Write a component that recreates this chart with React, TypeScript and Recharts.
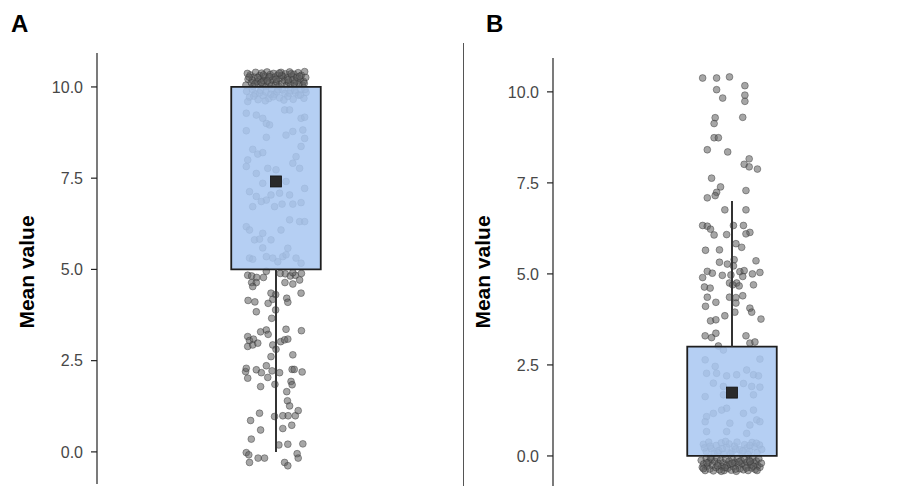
import React from "react";
import { ScatterChart, Scatter, XAxis, YAxis, ReferenceArea, ReferenceLine } from "recharts";

const panelNames = ["A", "B"];
const yTicks = [0, 2.5, 5, 7.5, 10];
const boxLower = [5.0, 0.0];
const boxUpper = [10.0, 3.0];
const whiskerLow = [0.0, 0.0];
const whiskerHigh = [10.0, 7.0];
const groupMeans = [7.41, 1.74];

// jittered observations, [jitter, value]
const aTop: [number, number][] = [
  [-0.084, 10.05], [-0.078, 10.21], [-0.072, 10.33], [-0.069, 10.12], [-0.064, 10.02], [-0.061, 10.27],
  [-0.057, 10.4], [-0.053, 10.15], [-0.049, 10.06], [-0.046, 10.31], [-0.043, 10.22], [-0.04, 10.38],
  [-0.037, 10.09], [-0.034, 10.17], [-0.031, 10.29], [-0.028, 10.03], [-0.025, 10.41], [-0.022, 10.24],
  [-0.019, 10.11], [-0.016, 10.34], [-0.013, 10.05], [-0.01, 10.19], [-0.007, 10.37], [-0.004, 10.27],
  [-0.001, 10.08], [0.002, 10.14], [0.005, 10.32], [0.008, 10.02], [0.011, 10.23], [0.014, 10.4],
  [0.017, 10.1], [0.02, 10.29], [0.023, 10.18], [0.026, 10.36], [0.029, 10.04], [0.032, 10.25],
  [0.035, 10.13], [0.038, 10.41], [0.041, 10.07], [0.044, 10.3], [0.047, 10.2], [0.05, 10.35],
  [0.053, 10.03], [0.056, 10.16], [0.059, 10.27], [0.062, 10.39], [0.065, 10.09], [0.068, 10.22],
  [0.071, 10.32], [0.074, 10.05], [0.077, 10.15], [0.08, 10.42], [0.083, 10.26], [-0.08, 10.37],
  [-0.066, 10.19], [-0.051, 10.26], [-0.035, 10.33], [-0.018, 10.28], [0.0, 10.21], [0.016, 10.31],
  [0.034, 10.19], [0.051, 10.1], [0.066, 10.29], [0.079, 10.1], [-0.075, 10.27], [-0.059, 10.08],
  [-0.041, 10.12], [-0.024, 10.16], [0.009, 10.38], [0.042, 10.36],
];
const aBand: [number, number][] = [
  [-0.082, 9.88], [-0.074, 9.72], [-0.066, 9.93], [-0.058, 9.81], [-0.05, 9.65], [-0.043, 9.9],
  [-0.036, 9.76], [-0.028, 9.86], [-0.02, 9.68], [-0.012, 9.94], [-0.005, 9.79], [0.003, 9.87],
  [0.01, 9.7], [0.018, 9.92], [0.025, 9.82], [0.033, 9.74], [0.04, 9.9], [0.048, 9.66],
  [0.055, 9.84], [0.063, 9.77], [0.07, 9.93], [0.078, 9.69], [0.084, 9.85], [-0.079, 9.6],
  [-0.062, 9.75], [-0.046, 9.84], [-0.03, 9.62], [-0.015, 9.8], [0.006, 9.92], [0.022, 9.64],
  [0.037, 9.83], [0.052, 9.91], [0.068, 9.78], [0.081, 9.93], [-0.008, 9.73],
];
const aMid: [number, number][] = [
  [-0.083, 9.28], [-0.055, 9.23], [-0.037, 9.14], [-0.027, 9.0], [-0.018, 8.96], [0.024, 9.37],
  [0.038, 9.37], [0.07, 9.14], [0.08, 9.17], [-0.083, 8.8], [-0.027, 8.62], [0.028, 8.68],
  [0.047, 8.78], [0.075, 8.82], [0.08, 8.59], [0.07, 8.37], [0.047, 7.91], [0.056, 8.09],
  [-0.065, 8.29], [-0.051, 8.16], [-0.037, 8.2], [-0.079, 8.0], [-0.083, 7.82], [-0.055, 7.63],
  [-0.023, 7.77], [0.0, 7.73], [0.066, 7.77], [-0.037, 7.36], [-0.074, 7.13], [-0.055, 7.0],
  [-0.027, 6.9], [-0.014, 7.04], [-0.004, 6.72], [0.017, 6.79], [0.038, 7.04], [0.047, 6.79],
  [0.07, 6.83], [0.08, 7.22], [-0.065, 6.72], [-0.041, 6.86], [0.01, 7.09], [0.028, 7.41],
  [-0.083, 6.17], [-0.074, 6.08], [-0.037, 5.99], [-0.014, 5.81], [0.014, 6.08], [0.038, 6.36],
  [0.066, 6.31], [0.08, 6.31], [-0.06, 5.81], [-0.046, 5.83], [0.033, 5.58], [-0.074, 5.31],
  [-0.065, 5.28], [-0.027, 5.35], [0.019, 5.35], [0.028, 5.4], [0.056, 5.31], [0.07, 5.17],
  [-0.037, 5.59], [0.005, 5.21], [-0.009, 5.31],
];
const aTail: [number, number][] = [
  [-0.079, 4.84], [-0.068, 4.82], [-0.054, 4.78], [-0.035, 4.78], [0.012, 4.89], [0.026, 4.88],
  [0.04, 4.82], [0.054, 4.84], [0.071, 4.89], [-0.068, 4.64], [-0.055, 4.64], [0.025, 4.64],
  [0.047, 4.6], [0.066, 4.71], [0.07, 4.35], [-0.001, 4.31], [0.03, 4.21], [0.033, 4.1],
  [-0.078, 4.15], [-0.059, 4.11], [-0.022, 4.07], [-0.009, 4.18], [-0.055, 3.84], [-0.001, 3.89],
  [-0.012, 3.66], [-0.043, 3.29], [-0.027, 3.34], [-0.022, 3.22], [0.028, 3.36], [0.071, 3.32],
  [-0.079, 3.16], [-0.074, 3.05], [-0.063, 3.09], [-0.079, 2.89], [-0.065, 2.93], [-0.051, 2.98],
  [-0.009, 2.93], [0.013, 3.02], [0.024, 3.07], [0.033, 3.09], [0.0, 2.81], [0.047, 2.66],
  [-0.014, 2.61], [-0.085, 2.2], [-0.079, 2.02], [-0.055, 2.25], [-0.041, 2.17], [-0.027, 2.36],
  [-0.023, 2.04], [-0.011, 2.22], [0.01, 2.17], [0.045, 2.26], [0.051, 2.26], [0.073, 2.19],
  [-0.003, 1.85], [0.042, 1.93], [0.045, 1.84], [-0.043, 1.79], [0.03, 1.65], [0.032, 1.4],
  [0.038, 1.26], [0.062, 1.13], [-0.071, 0.86], [-0.046, 1.06], [-0.004, 0.97], [0.019, 0.99],
  [0.034, 0.99], [0.054, 0.99], [-0.043, 0.6], [0.019, 0.64], [0.044, 0.73], [-0.069, 0.35],
  [0.008, 0.19], [0.033, 0.21], [0.075, 0.22], [-0.083, -0.02], [-0.074, -0.29], [-0.05, -0.17],
  [-0.032, -0.17], [0.024, -0.29], [0.033, -0.38], [0.059, -0.05], [0.062, -0.17], [-0.076, -0.08],
  [-0.027, 4.95], [0.047, 4.91], [-0.065, 4.53], [-0.014, 4.35], [-0.083, 2.29],
];

const bUpper: [number, number][] = [
  [-0.082, 10.38], [-0.043, 10.38], [-0.007, 10.41], [-0.043, 10.06], [0.036, 10.17], [-0.026, 9.83],
  [0.036, 9.91], [0.036, 9.74], [-0.047, 9.29], [-0.05, 9.13], [0.03, 9.3], [-0.05, 8.74],
  [-0.038, 8.74], [-0.069, 8.41], [-0.012, 8.35], [0.048, 8.16], [0.034, 8.01], [0.048, 7.94],
  [0.071, 7.88], [-0.057, 7.63], [-0.032, 7.39], [-0.043, 7.24], [-0.047, 7.15], [-0.069, 7.09],
  [0.039, 7.29], [-0.02, 6.76], [0.039, 6.76], [-0.082, 6.33], [-0.069, 6.31], [-0.06, 6.23],
  [-0.05, 6.07], [-0.015, 6.08], [0.004, 6.33], [0.032, 6.33], [0.05, 6.14], [0.039, 6.1],
  [-0.074, 5.65], [-0.035, 5.66], [0.011, 5.83], [0.027, 5.73], [0.067, 5.36], [-0.035, 5.32],
  [-0.013, 5.27], [0.006, 5.39], [0.004, 5.22], [-0.069, 5.07], [-0.055, 5.02], [-0.082, 4.9],
  [-0.027, 4.96], [-0.003, 4.97], [0.022, 5.06], [0.034, 5.09], [0.03, 4.93], [0.057, 5.0],
  [0.078, 5.04], [-0.007, 4.75], [0.013, 4.75], [0.002, 4.7], [0.02, 4.67], [0.06, 4.7],
  [-0.077, 4.64], [-0.061, 4.61], [-0.069, 4.36], [-0.007, 4.36], [0.011, 4.35], [0.03, 4.4],
  [-0.045, 4.22], [-0.074, 4.11], [0.011, 4.2], [0.05, 4.06], [0.055, 3.95], [-0.06, 3.71],
  [-0.045, 3.74], [-0.02, 3.85], [0.008, 3.95], [0.081, 3.76], [-0.075, 3.3], [-0.057, 3.25],
  [-0.045, 3.37], [0.039, 3.3], [0.05, 3.1], [0.064, 3.13], [-0.038, 3.02],
];
const bMid: [number, number][] = [
  [-0.024, 2.91], [-0.075, 2.64], [0.078, 2.66], [-0.047, 2.46], [0.041, 2.36], [-0.071, 2.27],
  [-0.043, 2.27], [-0.015, 2.2], [0.013, 2.23], [0.06, 2.23], [0.074, 2.2], [-0.052, 2.0],
  [-0.024, 1.91], [0.032, 1.99], [0.055, 1.91], [0.078, 1.89], [-0.075, 1.63], [-0.024, 1.68],
  [0.06, 1.68], [-0.015, 1.31], [-0.029, 1.26], [0.032, 1.17], [0.06, 1.26], [-0.071, 1.08],
  [-0.052, 1.17], [0.069, 0.99], [-0.075, 0.94], [-0.006, 0.9], [0.078, 0.94], [0.05, 0.85],
  [-0.071, 0.67], [-0.015, 0.67], [0.041, 0.62],
];
const bBand: [number, number][] = [
  [-0.08, 0.32], [-0.072, 0.12], [-0.065, 0.38], [-0.058, 0.2], [-0.05, 0.08], [-0.044, 0.29],
  [-0.037, 0.15], [-0.03, 0.36], [-0.022, 0.05], [-0.015, 0.24], [-0.008, 0.33], [0.0, 0.11],
  [0.007, 0.27], [0.014, 0.38], [0.021, 0.17], [0.028, 0.06], [0.035, 0.31], [0.042, 0.22],
  [0.049, 0.13], [0.056, 0.37], [0.063, 0.25], [0.07, 0.09], [0.077, 0.3], [0.083, 0.18],
  [-0.077, 0.22], [-0.061, 0.27], [-0.04, 0.09], [-0.018, 0.4], [0.01, 0.19], [0.03, 0.14],
  [0.05, 0.29], [0.068, 0.35], [-0.027, 0.2], [0.045, 0.04], [-0.005, 0.06],
];
const bBottom: [number, number][] = [
  [-0.086, -0.12], [-0.083, -0.31], [-0.079, -0.22], [-0.075, -0.4], [-0.072, -0.07], [-0.069, -0.28],
  [-0.065, -0.17], [-0.062, -0.36], [-0.058, -0.1], [-0.055, -0.25], [-0.052, -0.41], [-0.048, -0.15],
  [-0.045, -0.32], [-0.042, -0.06], [-0.038, -0.21], [-0.035, -0.38], [-0.032, -0.12], [-0.028, -0.29],
  [-0.025, -0.19], [-0.022, -0.4], [-0.018, -0.08], [-0.015, -0.26], [-0.012, -0.34], [-0.008, -0.14],
  [-0.005, -0.23], [-0.002, -0.39], [0.002, -0.1], [0.005, -0.3], [0.008, -0.18], [0.012, -0.42],
  [0.015, -0.07], [0.018, -0.25], [0.022, -0.35], [0.025, -0.13], [0.028, -0.21], [0.032, -0.38],
  [0.035, -0.09], [0.038, -0.28], [0.042, -0.17], [0.045, -0.4], [0.048, -0.11], [0.052, -0.24],
  [0.055, -0.33], [0.058, -0.06], [0.062, -0.19], [0.065, -0.37], [0.068, -0.14], [0.072, -0.27],
  [0.075, -0.08], [0.078, -0.31], [0.082, -0.2], [-0.08, -0.35], [-0.06, -0.05], [-0.04, -0.27],
  [-0.02, -0.32], [0.0, -0.2], [0.02, -0.16], [0.04, -0.33], [0.06, -0.28], [0.07, -0.4],
  [-0.07, -0.19], [-0.03, -0.42], [0.01, -0.36], [0.05, -0.15],
];

const toPoints = (...groups: [number, number][][]) =>
  groups.flat().map(([x, y]) => ({ x, y }));

const panelPoints = [toPoints(aTop, aBand, aMid, aTail), toPoints(bUpper, bMid, bBand, bBottom)];

const JitterDot = (p: any) => (
  <circle
    cx={p.cx}
    cy={p.cy}
    r={3.4}
    fill="#5c5c5c"
    fillOpacity={0.55}
    stroke="#333"
    strokeOpacity={0.55}
    strokeWidth={0.8}
  />
);

const MeanMark = (p: any) => (
  <rect x={p.cx - 5.5} y={p.cy - 5.5} width={11} height={11} fill="#2a2a2a" stroke="#111" strokeWidth={0.8} />
);

const fmt = (v: number) => v.toFixed(1);

function Panel({ i, height, top, domain, showX }: { i: number; height: number; top: number; domain: [number, number]; showX: boolean }) {
  return (
    <ScatterChart width={460} height={height} margin={{ top, right: 5, bottom: showX ? 2 : 0, left: 0 }}>
      <XAxis
        type="number"
        dataKey="x"
        domain={[-0.5, 0.5]}
        tick={false}
        tickLine={false}
        height={0}
        hide={!showX}
        axisLine={{ stroke: "#222", strokeWidth: 1.2 }}
      />
      <YAxis
        type="number"
        dataKey="y"
        domain={domain}
        allowDataOverflow
        ticks={yTicks}
        tickFormatter={fmt}
        width={97}
        tickSize={6}
        tickMargin={8}
        axisLine={{ stroke: "#222", strokeWidth: 1.2 }}
        tickLine={{ stroke: "#222", strokeWidth: 1.2 }}
        tick={{ fill: "#474747", fontSize: 16 }}
      />
      <Scatter data={panelPoints[i]} shape={JitterDot} isAnimationActive={false} zIndex={600} />
      <ReferenceArea
        x1={-0.125}
        x2={0.125}
        y1={boxLower[i]}
        y2={boxUpper[i]}
        fill="#a9c7f1"
        fillOpacity={0.86}
        stroke="#1e1e1e"
        strokeWidth={1.8}
        strokeOpacity={1}
        zIndex={700}
      />
      {whiskerLow[i] < boxLower[i] && (
        <ReferenceLine
          segment={[{ x: 0, y: whiskerLow[i] }, { x: 0, y: boxLower[i] }]}
          stroke="#333"
          strokeWidth={2}
          zIndex={700}
        />
      )}
      {whiskerHigh[i] > boxUpper[i] && (
        <ReferenceLine
          segment={[{ x: 0, y: boxUpper[i] }, { x: 0, y: whiskerHigh[i] }]}
          stroke="#333"
          strokeWidth={2}
          zIndex={700}
        />
      )}
      <Scatter data={[{ x: 0, y: groupMeans[i] }]} shape={MeanMark} isAnimationActive={false} zIndex={800} />
    </ScatterChart>
  );
}

const letterStyle: React.CSSProperties = {
  position: "absolute",
  top: 12,
  fontSize: 24,
  lineHeight: "24px",
  fontWeight: 700,
  color: "#000",
};

const yLabelStyle: React.CSSProperties = {
  position: "absolute",
  top: 272,
  fontSize: 21,
  fontWeight: 700,
  color: "#000",
  whiteSpace: "nowrap",
  transform: "translate(-50%, -50%) rotate(-90deg)",
};

export default function App() {
  return (
    <div
      style={{
        position: "absolute",
        left: 0,
        top: 0,
        width: 910,
        height: 486,
        overflow: "hidden",
        background: "#fff",
        fontFamily: "'Liberation Sans', Arial, sans-serif",
      }}
    >
      <div style={{ position: "absolute", left: 0, top: 0 }}>
        <Panel i={0} height={486} top={53} domain={[-0.88, 10.93]} showX />
      </div>
      <div style={{ position: "absolute", left: 456, top: 0 }}>
        <Panel i={1} height={500} top={58} domain={[-1.21, 10.93]} showX={false} />
      </div>
      <div style={{ position: "absolute", left: 463, top: 43, width: 0, height: 443, borderLeft: "1px solid #555" }} />
      <div style={{ ...letterStyle, left: 11 }}>{panelNames[0]}</div>
      <div style={{ ...letterStyle, left: 486 }}>{panelNames[1]}</div>
      <div style={{ ...yLabelStyle, left: 27 }}>Mean value</div>
      <div style={{ ...yLabelStyle, left: 483 }}>Mean value</div>
    </div>
  );
}
